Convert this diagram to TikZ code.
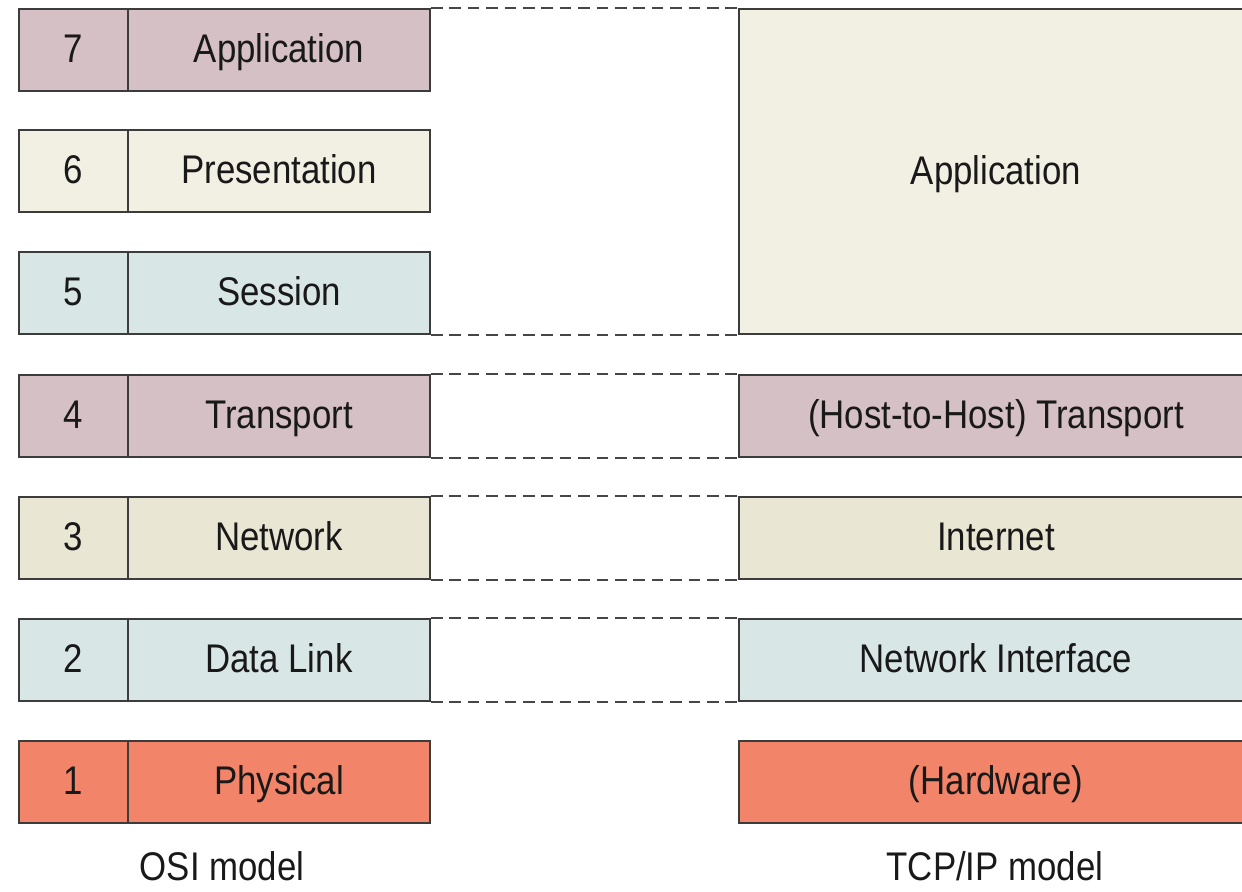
\documentclass[tikz,border=0pt]{standalone}
\usepackage{fontspec}
\setmainfont{Liberation Sans}[FakeStretch=0.87]
\definecolor{edge}{RGB}{60,60,60}
\definecolor{dashgray}{RGB}{70,70,70}
\definecolor{mauve}{RGB}{213,192,197}
\definecolor{cream}{RGB}{242,239,227}
\definecolor{mist}{RGB}{217,230,230}
\definecolor{sand}{RGB}{233,230,211}
\definecolor{salmon}{RGB}{242,133,105}
\begin{document}
\begin{tikzpicture}[x=0.5pt,y=-0.5pt,
  txt/.style={font=\fontsize{20}{24}\selectfont, text height=14.3pt, text depth=1.8pt, text=black!90},
  layer/.style={txt, draw=edge, line width=1pt, inner sep=0pt, minimum height=41pt, anchor=north west},
  numcell/.style={layer, minimum width=54.5pt},
  namecell/.style={layer, minimum width=151pt},
  tcpcell/.style={layer, minimum width=257pt},
  link/.style={draw=dashgray, line width=1pt, dash pattern=on 5.8pt off 3.4pt},
  caption/.style={txt, inner sep=0pt}]
\useasboundingbox (0,0) rectangle (1242,891);
\clip (0,0) rectangle (1242,891);

% OSI reference model, layers 7 down to 1
\node[numcell, fill=mauve]  (n7) at (18,8)   {7};
\node[namecell, fill=mauve] (l7) at (127,8)  {Application};
\node[numcell, fill=cream]  (n6) at (18,129) {6};
\node[namecell, fill=cream] (l6) at (127,129) {Presentation};
\node[numcell, fill=mist]   (n5) at (18,251) {5};
\node[namecell, fill=mist]  (l5) at (127,251) {Session};
\node[numcell, fill=mauve]  (n4) at (18,374) {4};
\node[namecell, fill=mauve] (l4) at (127,374) {Transport};
\node[numcell, fill=sand]   (n3) at (18,496) {3};
\node[namecell, fill=sand]  (l3) at (127,496) {Network};
\node[numcell, fill=mist]   (n2) at (18,618) {2};
\node[namecell, fill=mist]  (l2) at (127,618) {Data Link};
\node[numcell, fill=salmon] (n1) at (18,740) {1};
\node[namecell, fill=salmon] (l1) at (127,740) {Physical};

% TCP/IP model
\node[tcpcell, fill=cream, minimum height=162.5pt] (tapp) at (738,8) {Application};
\node[tcpcell, fill=mauve]  (ttr)  at (738,374) {(Host-to-Host) Transport};
\node[tcpcell, fill=sand]   (tnet) at (738,496) {Internet};
\node[tcpcell, fill=mist]   (tnif) at (738,618) {Network Interface};
\node[tcpcell, fill=salmon] (thw)  at (738,740) {(Hardware)};

% correspondence between the two stacks
\draw[link] (l7.north east) -- (tapp.north west);
\draw[link] (l5.south east) -- (tapp.south west);
\draw[link] (l4.north east) -- (ttr.north west);
\draw[link] (l4.south east) -- (ttr.south west);
\draw[link] (l3.north east) -- (tnet.north west);
\draw[link] (l3.south east) -- (tnet.south west);
\draw[link] (l2.north east) -- (tnif.north west);
\draw[link] (l2.south east) -- (tnif.south west);

% captions
\node[caption] (osi) at (222,868) {OSI model};
\node[caption] (tcp) at (995,868) {TCP/IP model};
\end{tikzpicture}
\end{document}
